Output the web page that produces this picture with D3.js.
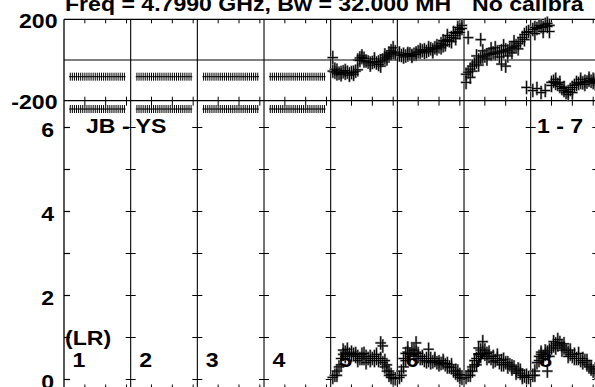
<!DOCTYPE html>
<html><head><meta charset="utf-8">
<script src="https://cdn.jsdelivr.net/npm/d3@7"></script>
<style>
body{margin:0;background:#fff}
svg{display:block}
text{font-family:"Liberation Sans",Arial,Helvetica,sans-serif;font-weight:bold;fill:#000}
</style>
</head><body><div id="chart"></div><script>
// ---------------- data ----------------
const ifLabels = ["1","2","3","4","5","6","7","8"];
const phaseTicks = [200, -200];
const ampLabelTicks = [0, 2, 4, 6];
const ampAllTicks = [0, 1, 2, 3, 4, 5, 6];
const chanTicks = [10, 20, 30];
const titleText = "Freq = 4.7990 GHz, Bw = 32.000 MH";
const calText = "No calibra";
const baselineText = "JB - YS";
const sourceText = "1 - 7";
const polText = "(LR)";

const chansFlagged = [3,4,5,6,7,8,9,10,11,12,13,14,15,16,17,18,19,20,21,22,23,24,25,26,27,28,29];
const chansData = [1,2,3,4,5,6,7,8,9,10,11,12,13,14,15,16,17,18,19,20,21,22,23,24,25,26,27,28,29,30,31];

// IF 1-4: constant (flagged) values
const phaseIF1 = [-82,-82,-82,-82,-82,-82,-82,-82,-82,-82,-82,-82,-82,-82,-82,-82,-82,-82,-82,-82,-82,-82,-82,-82,-82,-82,-82];
const phaseIF2 = [-82,-82,-82,-82,-82,-82,-82,-82,-82,-82,-82,-82,-82,-82,-82,-82,-82,-82,-82,-82,-82,-82,-82,-82,-82,-82,-82];
const phaseIF3 = [-82,-82,-82,-82,-82,-82,-82,-82,-82,-82,-82,-82,-82,-82,-82,-82,-82,-82,-82,-82,-82,-82,-82,-82,-82,-82,-82];
const phaseIF4 = [-82,-82,-82,-82,-82,-82,-82,-82,-82,-82,-82,-82,-82,-82,-82,-82,-82,-82,-82,-82,-82,-82,-82,-82,-82,-82,-82];
const ampIF1 = [6.44,6.44,6.44,6.44,6.44,6.44,6.44,6.44,6.44,6.44,6.44,6.44,6.44,6.44,6.44,6.44,6.44,6.44,6.44,6.44,6.44,6.44,6.44,6.44,6.44,6.44,6.44];
const ampIF2 = [6.44,6.44,6.44,6.44,6.44,6.44,6.44,6.44,6.44,6.44,6.44,6.44,6.44,6.44,6.44,6.44,6.44,6.44,6.44,6.44,6.44,6.44,6.44,6.44,6.44,6.44,6.44];
const ampIF3 = [6.44,6.44,6.44,6.44,6.44,6.44,6.44,6.44,6.44,6.44,6.44,6.44,6.44,6.44,6.44,6.44,6.44,6.44,6.44,6.44,6.44,6.44,6.44,6.44,6.44,6.44,6.44];
const ampIF4 = [6.44,6.44,6.44,6.44,6.44,6.44,6.44,6.44,6.44,6.44,6.44,6.44,6.44,6.44,6.44,6.44,6.44,6.44,6.44,6.44,6.44,6.44,6.44,6.44,6.44,6.44,6.44];

// IF 5-8: measured values per channel
const phaseIF5 = [-55,-60,-50,-65,-62,-58,-65,-60,-68,-62,-60,-55,0,10,12,8,-5,-10,-15,-12,-8,-15,-10,-5,0,10,15,20,30,35,40];
const phaseIF6 = [25,22,28,20,25,30,22,28,35,40,38,45,50,42,48,55,50,60,55,65,80,70,90,100,95,110,120,130,140,150,155];
const phaseIF7 = [-70,-60,-45,-30,-20,-10,0,10,15,20,25,30,28,35,30,40,35,45,40,50,45,55,60,65,70,80,90,110,125,135,140];
const phaseIF8 = [150,160,155,170,165,160,175,165,170,-110,-105,-115,-120,-130,-140,-150,-160,-155,-145,-135,-125,-120,-115,-110,-112,-105,-108,-100,-105,-110,-100];
const ampIF5 = [0.05,0.1,0.2,0.3,0.5,0.6,0.65,0.62,0.6,0.58,0.6,0.55,0.55,0.5,0.6,0.5,0.55,0.5,0.45,0.5,0.55,0.5,0.45,0.5,0.4,0.3,0.2,0.1,0.05,0.03,0.02];
const ampIF6 = [0.05,0.2,0.5,0.62,0.65,0.6,0.7,0.6,0.65,0.55,0.5,0.5,0.45,0.5,0.45,0.5,0.42,0.45,0.4,0.42,0.38,0.4,0.35,0.38,0.3,0.28,0.2,0.15,0.1,0.05,0.03];
const ampIF7 = [0.05,0.1,0.2,0.3,0.35,0.5,0.6,0.7,0.65,0.6,0.62,0.55,0.5,0.55,0.45,0.5,0.4,0.45,0.35,0.4,0.3,0.35,0.25,0.3,0.2,0.25,0.15,0.1,0.08,0.05,0.05];
const ampIF8 = [0.1,0.2,0.4,0.55,0.6,0.55,0.6,0.65,0.7,0.75,0.8,0.85,0.82,0.88,0.8,0.75,0.7,0.65,0.6,0.55,0.6,0.5,0.5,0.45,0.5,0.45,0.35,0.3,0.25,0.2,0.15];

// extra (scattered) points [channel, value]
const phaseExtra5 = [[1,12],[2,-45],[3,-68],[5,-72],[7,-52],[9,-75],[11,-70],[13,-48],[14,-2],[15,20],[16,-5],[19,-25],[21,5],[23,-22],[24,-30],[26,25],[27,5],[28,35],[29,45],[30,60],[31,30]];
const phaseExtra6 = [[1,35],[3,15],[5,32],[7,18],[9,28],[11,50],[13,35],[15,60],[17,40],[19,70],[21,60],[22,95],[23,75],[24,120],[26,90],[27,135],[28,105],[29,160],[30,135],[31,170]];
const phaseExtra7 = [[1,-110],[2,110],[3,-85],[4,-55],[6,20],[7,-25],[8,100],[9,45],[11,5],[13,55],[15,60],[17,15],[18,-20],[19,70],[20,-30],[21,20],[23,35],[24,90],[26,55],[29,100],[30,-135]];
const phaseExtra8 = [[1,-150],[2,130],[3,-140],[5,-160],[6,140],[7,-150],[8,180],[9,140],[10,-125],[12,-95],[14,-110],[16,-135],[18,-170],[20,-160],[22,-110],[24,-95],[26,-120],[28,-90],[30,-95],[31,-115]];
const ampExtra5 = [[3,0.1],[5,0.35],[6,0.7],[7,0.55],[8,0.72],[10,0.65],[12,0.62],[13,0.45],[15,0.5],[16,0.62],[17,0.4],[19,0.55],[21,0.45],[22,0.6],[24,0.87],[25,0.8],[26,0.45],[27,0.35],[28,0.2],[29,0.12]];
const ampExtra6 = [[2,0.1],[3,0.3],[4,0.45],[5,0.75],[6,0.55],[8,0.7],[9,0.87],[10,0.62],[12,0.55],[14,0.42],[15,0.72],[16,0.4],[18,0.5],[20,0.35],[22,0.45],[24,0.3],[26,0.35],[28,0.22],[29,0.2],[30,0.12]];
const ampExtra7 = [[3,0.1],[4,0.2],[5,0.45],[6,0.35],[7,0.75],[8,0.55],[9,0.9],[10,0.7],[11,0.5],[12,0.65],[14,0.42],[16,0.58],[18,0.35],[19,0.48],[21,0.4],[23,0.32],[25,0.15],[27,0.22],[28,0.05],[30,0.1]];
const ampExtra8 = [[2,0.1],[4,0.45],[5,0.65],[6,0.5],[7,0.68],[8,0.2],[9,0.55],[11,0.9],[12,0.75],[13,0.95],[15,0.7],[16,0.85],[18,0.55],[19,0.7],[21,0.5],[23,0.62],[25,0.4],[27,0.45],[29,0.3],[31,0.25]];

const phaseSeries = [phaseIF1,phaseIF2,phaseIF3,phaseIF4,phaseIF5,phaseIF6,phaseIF7,phaseIF8];
const ampSeries = [ampIF1,ampIF2,ampIF3,ampIF4,ampIF5,ampIF6,ampIF7,ampIF8];
const phaseExtras = [[],[],[],[],phaseExtra5,phaseExtra6,phaseExtra7,phaseExtra8];
const ampExtras = [[],[],[],[],ampExtra5,ampExtra6,ampExtra7,ampExtra8];

// ---------------- layout ----------------
const W = 595, H = 387;
const left = 64, panelW = 66.67;
const phTop = 19.3, phBot = 100.7, ampBot = 389.5;
const FS = 21, SX = 1.1;

const svg = d3.select("#chart").append("svg").attr("width", W).attr("height", H);

const yPh = d3.scaleLinear().domain([-200, 200]).range([phBot, phTop]);
const yAmp = d3.scaleLinear().domain([0, 6]).range([379.5, 127.5]);
const xPanel = i => d3.scaleLinear().domain([0, 32]).range([left + i * panelW, left + (i + 1) * panelW]);

function label(x, y, txt, anchor) {
  svg.append("g").attr("transform", `translate(${x},${y}) scale(${SX},1)`)
    .append("text").attr("font-size", FS).attr("text-anchor", anchor || "start").text(txt);
}
function cross(g, x, y, hw, hh, col, sw) {
  g.append("path").attr("d", `M${x - hw},${y}H${x + hw}M${x},${y - hh}V${y + hh}`)
    .attr("stroke", col).attr("stroke-width", sw).attr("fill", "none");
}

const frame = svg.append("g").attr("stroke", "#000").attr("stroke-width", 1.2).attr("fill", "none");
const right = left + 8 * panelW;
[phTop, yPh(0), phBot, ampBot].forEach(y => frame.append("line").attr("x1", left).attr("x2", right).attr("y1", y).attr("y2", y));
for (let i = 0; i <= 8; i++) {
  const x = left + i * panelW;
  frame.append("line").attr("x1", x).attr("x2", x).attr("y1", phTop).attr("y2", ampBot)
    .attr("stroke-width", i === 0 ? 1.3 : 1.1);
}
ampAllTicks.forEach(v => {
  const y = yAmp(v);
  frame.append("line").attr("x1", left).attr("x2", left + 6).attr("y1", y).attr("y2", y);
  for (let i = 1; i <= 8; i++) {
    const x = left + i * panelW;
    frame.append("line").attr("x1", x - 5).attr("x2", x + 5).attr("y1", y).attr("y2", y).attr("stroke-width", 1);
  }
});
for (let i = 0; i < 8; i++) {
  const xs = xPanel(i);
  chanTicks.forEach(c => {
    const x = xs(c);
    frame.append("line").attr("x1", x).attr("x2", x).attr("y1", phTop).attr("y2", phTop + 4).attr("stroke-width", 1);
    frame.append("line").attr("x1", x).attr("x2", x).attr("y1", phBot - 4).attr("y2", phBot + 5).attr("stroke-width", 1);
    frame.append("line").attr("x1", x).attr("x2", x).attr("y1", ampBot - 5).attr("y2", ampBot).attr("stroke-width", 1);
  });
}

// ---------------- data marks ----------------
const shadow = svg.append("g");
const marks = svg.append("g");
for (let i = 0; i < 8; i++) {
  const xs = xPanel(i);
  const chans = i < 4 ? chansFlagged : chansData;
  if (i < 4) {
    phaseSeries[i].forEach((v, k) => cross(marks, xs(chans[k]), yPh(v), 1.2, 4, "#000", 1));
    ampSeries[i].forEach((v, k) => cross(marks, xs(chans[k]), yAmp(v), 1.2, 4, "#000", 1));
    continue;
  }
  phaseExtras[i].forEach(([c, v]) => cross(shadow, xs(c), yPh(v), 5.5, 7, "#8a8a8a", 2.2));
  ampExtras[i].forEach(([c, v]) => cross(shadow, xs(c), yAmp(v), 5.5, 7, "#8a8a8a", 2.2));
  phaseSeries[i].forEach((v, k) => cross(shadow, xs(chans[k]), yPh(v), 5.5, 7, "#8a8a8a", 2.2));
  ampSeries[i].forEach((v, k) => cross(shadow, xs(chans[k]), yAmp(v), 5.5, 7, "#8a8a8a", 2.2));
  phaseSeries[i].forEach((v, k) => cross(marks, xs(chans[k]), yPh(v), 5, 6.5, "#000", 1));
  ampSeries[i].forEach((v, k) => cross(marks, xs(chans[k]), yAmp(v), 5, 6.5, "#000", 1));
  phaseExtras[i].forEach(([c, v]) => cross(marks, xs(c), yPh(v), 5, 6.5, "#000", 1));
  ampExtras[i].forEach(([c, v]) => cross(marks, xs(c), yAmp(v), 5, 6.5, "#000", 1));
}

// ---------------- text ----------------
label(65, 11, titleText);
label(472, 11, calText);
phaseTicks.forEach(v => label(57.5, yPh(v) + 8.5, String(v), "end"));
ampLabelTicks.forEach(v => label(54, yAmp(v) + 9, String(v), "end"));
label(86, 133.3, baselineText);
label(537, 133.3, sourceText);
label(65, 345, polText);
ifLabels.forEach((t, i) => label(left + i * panelW + 8.5, 366.7, t));
</script></body></html>
